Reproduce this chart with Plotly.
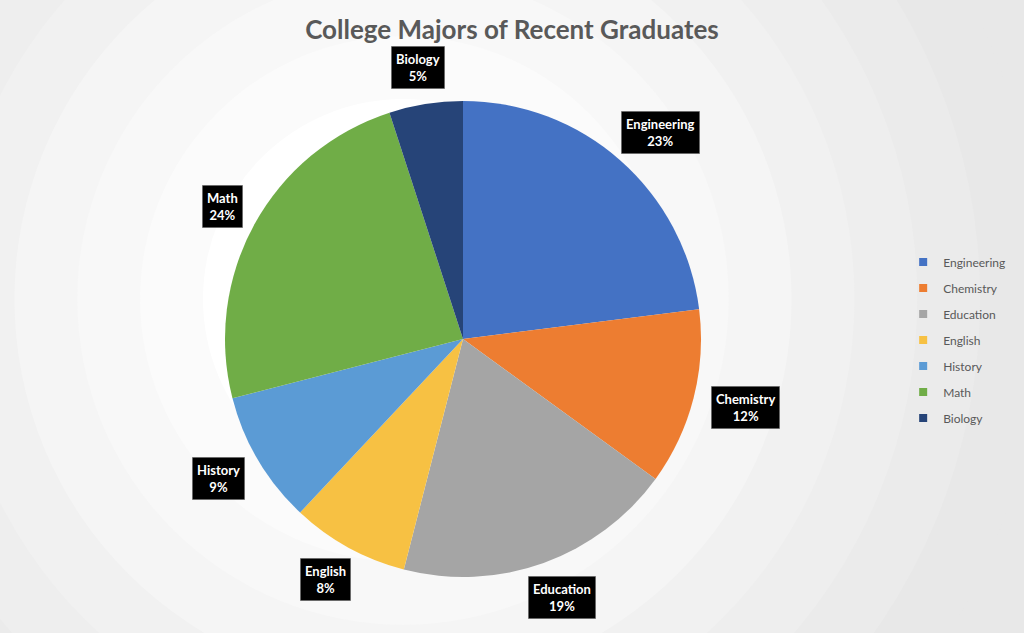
import math
import plotly.graph_objects as go

majors = ["Engineering", "Chemistry", "Education", "English", "History", "Math", "Biology"]
shares = [23, 12, 19, 8, 9, 24, 5]
colors = ["#4472C4", "#ED7D31", "#A5A5A5", "#F7C143", "#5B9BD5", "#70AD47", "#264478"]

W, H = 1024, 633
cx, cy, R = 463, 339, 238   # pie centre / radius in pixels

fig = go.Figure()
fig.add_trace(go.Pie(
    labels=majors,
    values=shares,
    sort=False,
    direction="clockwise",
    rotation=0,
    marker=dict(colors=colors, line=dict(width=0)),
    textinfo="none",
    hoverinfo="label+percent",
    showlegend=False,
    domain=dict(x=[(cx - R) / W, (cx + R) / W], y=[1 - (cy + R) / H, 1 - (cy - R) / H]),
))

# legend entries (separate so the row spacing can match)
for name, c in zip(majors, colors):
    fig.add_trace(go.Scatter(x=[None], y=[None], mode="markers", name=name,
                             legendgroup=name,
                             marker=dict(symbol="square", size=8, color=c)))

# data labels: black boxes just outside each slice, pushed out by half their size
total = sum(shares)
cum = 0
for name, v in zip(majors, shares):
    mid = (cum + v / 2) / total * 2 * math.pi
    cum += v
    ux, uy = math.sin(mid), -math.cos(mid)
    hw = len(name) * 3.5 + 6
    hh = 21
    px = cx + (R + 16) * ux + hw * ux
    py = cy + (R + 16) * uy + hh * uy
    txt = "<b>%s<br>%d%%</b>" % (name, round(100 * v / total))
    fig.add_annotation(x=px / W, y=1 - py / H, xref="paper", yref="paper",
                       xanchor="center", yanchor="middle",
                       text=txt, showarrow=False, bgcolor="black",
                       bordercolor="rgba(90,90,90,0.5)", borderwidth=1,
                       font=dict(family="Lato", size=13, color="white"),
                       borderpad=4)

# soft radial background
steps = 8
for i in range(steps):
    f = i / (steps - 1)
    rr = 640 * (1 - f) + 200 * f
    g = int(232 + (255 - 232) * f)
    fig.add_shape(type="circle", xref="paper", yref="paper", layer="below",
                  x0=(cx - 60 - rr) / W, x1=(cx - 60 + rr) / W,
                  y0=1 - (cy - 40 + rr) / H, y1=1 - (cy - 40 - rr) / H,
                  fillcolor="rgb(%d,%d,%d)" % (g, g, g), line=dict(width=0))

fig.update_layout(
    width=W, height=H,
    margin=dict(l=0, r=0, t=0, b=0),
    paper_bgcolor="#e8e8e8",
    plot_bgcolor="rgba(0,0,0,0)",
    xaxis=dict(visible=False),
    yaxis=dict(visible=False),
    title=dict(text="<b>College Majors of Recent Graduates</b>", x=0.5, xanchor="center",
               y=1 - 30 / H, yanchor="middle",
               font=dict(family="Lato", size=26, color="#595959")),
    legend=dict(x=0.882, y=0.463, xanchor="left", yanchor="middle",
                font=dict(family="Lato", size=12, color="#595959"),
                bgcolor="rgba(0,0,0,0)", tracegroupgap=7, itemwidth=30),
    showlegend=True,
)

# page body has a default margin; drop it so the figure fills the window
fig.write_html("out.html", config={"displayModeBar": False},
               post_script="document.body.style.margin='0';document.body.style.overflow='hidden';")
